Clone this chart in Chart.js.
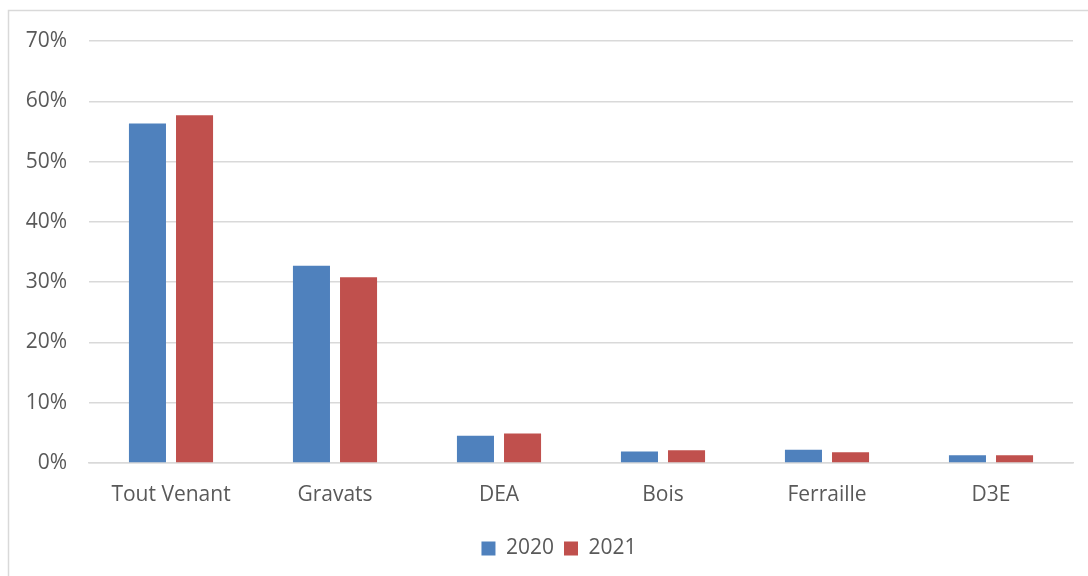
<!DOCTYPE html>
<html>
<head>
<meta charset="utf-8">
<script src="https://cdn.jsdelivr.net/npm/chart.js@4.4.1/dist/chart.umd.min.js"></script>
<style>
  html, body { margin: 0; padding: 0; background: #ffffff; }
  #wrap { position: absolute; left: 0; top: 0; width: 1088px; height: 576px; }
</style>
</head>
<body>
<div id="wrap"><canvas id="c" width="1088" height="576"></canvas></div>
<script>
// Waste categories and their share of the total, per year
const categories = ['Tout Venant', 'Gravats', 'DEA', 'Bois', 'Ferraille', 'D3E'];
const values2020 = [56.3, 32.7, 4.5, 1.9, 2.2, 1.3];
const values2021 = [57.7, 30.8, 4.9, 2.1, 1.8, 1.3];
const seriesNames = ['2020', '2021'];
const yTicks = [0, 10, 20, 30, 40, 50, 60, 70];

const textColor = '#595959';
const gridColor = '#d9d9d9';
const fontFamily = '"Open Sans", Lato, sans-serif';
const fontSize = 21;

// Outer frame of the chart
const framePlugin = {
  id: 'frame',
  beforeDraw(chart) {
    const ctx = chart.ctx;
    ctx.save();
    ctx.fillStyle = '#ffffff';
    ctx.fillRect(0, 0, chart.width, chart.height);
    ctx.strokeStyle = gridColor;
    ctx.lineWidth = 1.5;
    ctx.strokeRect(8.5, 10.5, chart.width + 20, chart.height + 20);
    ctx.restore();
  }
};

// Center the legend under the plot area rather than the whole canvas
const legendShift = {
  id: 'legendShift',
  afterLayout(chart) {
    const lg = chart.legend;
    if (!lg) return;
    const dx = (chart.chartArea.left + chart.chartArea.right) / 2 - (lg.left + lg.right) / 2 - 22;
    lg.left += dx;
    lg.right += dx;
  }
};

new Chart(document.getElementById('c'), {
  type: 'bar',
  data: {
    labels: categories,
    datasets: [
      { label: seriesNames[0], data: values2020, backgroundColor: '#4f81bd' },
      { label: seriesNames[1], data: values2021, backgroundColor: '#c0504d' }
    ]
  },
  options: {
    responsive: false,
    animation: false,
    devicePixelRatio: 1,
    layout: { padding: { left: 0, right: 15, top: 41, bottom: 7 } },
    datasets: {
      bar: { categoryPercentage: 0.574, barPercentage: 0.787 }
    },
    plugins: {
      legend: {
        position: 'bottom',
        labels: {
          color: textColor,
          font: { family: fontFamily, size: fontSize },
          boxWidth: 14,
          boxHeight: 14,
          padding: 10
        }
      },
      tooltip: { enabled: false }
    },
    scales: {
      x: {
        grid: { display: false, drawTicks: false },
        border: { display: true, color: gridColor, width: 1.5 },
        ticks: { color: textColor, font: { family: fontFamily, size: fontSize }, padding: 19 },
        afterFit(scale) { scale.height = 65; }
      },
      y: {
        min: 0,
        max: 70,
        afterBuildTicks(scale) { scale.ticks = yTicks.map(v => ({ value: v })); },
        grid: { color: gridColor, lineWidth: 1.5, drawTicks: false },
        border: { display: false },
        ticks: {
          color: textColor,
          font: { family: fontFamily, size: fontSize },
          padding: 22,
          callback: v => v + '%'
        },
        afterFit(scale) { scale.width = 89; }
      }
    }
  },
  plugins: [framePlugin, legendShift]
});
</script>
</body>
</html>
